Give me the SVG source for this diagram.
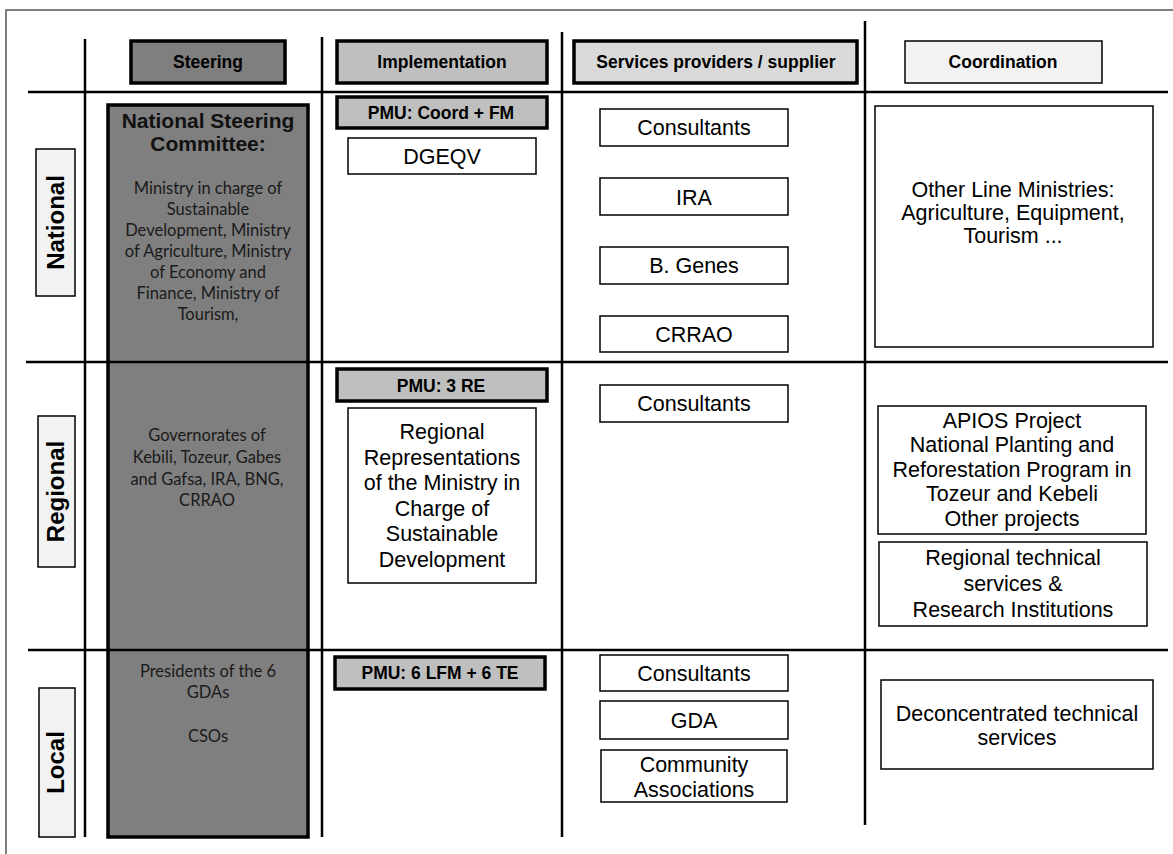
<svg xmlns="http://www.w3.org/2000/svg" width="1173" height="854" viewBox="0 0 1173 854">
<style>
text{font-family:"Liberation Sans",Arial,sans-serif;fill:#000;text-anchor:middle}
.hd{font-size:17.5px;font-weight:bold}
.rg{font-size:21.5px}
.cal{font-family:Lato,"Open Sans",sans-serif;font-size:16.5px;fill:#1a1a1a}
.lab{font-size:24px;font-weight:bold}
.thick{stroke:#000;stroke-width:3.5}
.thin{stroke:#000;stroke-width:1.5;fill:#fff}
.grid line{stroke:#000;stroke-width:2.5}
</style>
<rect width="1173" height="854" fill="#fff"/>
<path d="M1173 10 H6 V854" fill="none" stroke="#555" stroke-width="1.5"/>
<g id="hdr-steering"><rect x="131" y="41" width="154" height="42" fill="#7f7f7f" class="thick"/><text class="hd" x="208" y="68">Steering</text></g>
<g id="hdr-implementation"><rect x="337" y="41" width="210" height="42" fill="#bfbfbf" class="thick"/><text class="hd" x="442" y="68">Implementation</text></g>
<g id="hdr-services"><rect x="574" y="41" width="283" height="42" fill="#d9d9d9" class="thick"/><text class="hd" x="716" y="68">Services providers / supplier</text></g>
<g id="hdr-coordination"><rect x="905" y="41" width="197" height="42" fill="#f2f2f2" stroke="#000" stroke-width="1.5"/><text class="hd" x="1003" y="68">Coordination</text></g>
<g id="lbl-national"><rect x="36" y="149" width="39" height="147" fill="#f2f2f2" stroke="#000" stroke-width="1.5"/><text class="lab" transform="translate(63.5 222.5) rotate(-90)">National</text></g>
<g id="lbl-regional"><rect x="38" y="416" width="37" height="151" fill="#f2f2f2" stroke="#000" stroke-width="1.5"/><text class="lab" transform="translate(64 491.5) rotate(-90)">Regional</text></g>
<g id="lbl-local"><rect x="39" y="688" width="36" height="149" fill="#f2f2f2" stroke="#000" stroke-width="1.5"/><text class="lab" transform="translate(64 762.5) rotate(-90)">Local</text></g>
<g id="steering-committee">
<rect x="108" y="105" width="200" height="732" fill="#7f7f7f" class="thick"/>
<text style="font-size:21px;font-weight:bold;fill:#111" x="208"><tspan x="208" y="128">National Steering</tspan><tspan x="208" y="151">Committee:</tspan></text>
<text class="cal"><tspan x="208" y="194">Ministry in charge of</tspan><tspan x="208" y="215">Sustainable</tspan><tspan x="208" y="236">Development, Ministry</tspan><tspan x="208" y="257">of Agriculture, Ministry</tspan><tspan x="208" y="278">of Economy and</tspan><tspan x="208" y="299">Finance, Ministry of</tspan><tspan x="208" y="320">Tourism,</tspan></text>
<text class="cal"><tspan x="207" y="441">Governorates of</tspan><tspan x="207" y="463">Kebili, Tozeur, Gabes</tspan><tspan x="207" y="485">and Gafsa, IRA, BNG,</tspan><tspan x="207" y="506">CRRAO</tspan></text>
<text class="cal"><tspan x="208" y="677">Presidents of the 6</tspan><tspan x="208" y="698">GDAs</tspan><tspan x="208" y="742">CSOs</tspan></text>
</g>
<g id="connectors" class="grid">
<line x1="85" y1="39" x2="85" y2="837"/>
<line x1="322" y1="37" x2="322" y2="837"/>
<line x1="562" y1="32" x2="562" y2="837"/>
<line x1="865" y1="21" x2="865" y2="825"/>
<line x1="28" y1="92" x2="1168" y2="92"/>
<line x1="26" y1="362" x2="1168" y2="362"/>
<line x1="28" y1="650" x2="1168" y2="650"/>
</g>
<g id="pmu-national"><rect x="337" y="97" width="210" height="31" fill="#bfbfbf" class="thick"/><text class="hd" x="441" y="119">PMU: Coord + FM</text></g>
<g id="dgeqv"><rect x="348" y="138" width="188" height="36" class="thin"/><text class="rg" x="442" y="164">DGEQV</text></g>
<g id="pmu-regional"><rect x="337" y="369" width="210" height="32" fill="#bfbfbf" class="thick"/><text class="hd" x="441" y="392">PMU: 3 RE</text></g>
<g id="regional-rep"><rect x="348" y="408" width="188" height="175" class="thin"/><text class="rg"><tspan x="442" y="439">Regional</tspan><tspan x="442" y="464.5">Representations</tspan><tspan x="442" y="490">of the Ministry in</tspan><tspan x="442" y="515.5">Charge of</tspan><tspan x="442" y="541">Sustainable</tspan><tspan x="442" y="566.5">Development</tspan></text></g>
<g id="pmu-local"><rect x="335" y="657" width="210" height="32" fill="#bfbfbf" class="thick"/><text class="hd" x="440" y="679">PMU: 6 LFM + 6 TE</text></g>
<g id="sp-consultants-nat"><rect x="600" y="109" width="188" height="37" class="thin"/><text class="rg" x="694" y="135">Consultants</text></g>
<g id="sp-ira"><rect x="600" y="178" width="188" height="37" class="thin"/><text class="rg" x="694" y="205">IRA</text></g>
<g id="sp-bgenes"><rect x="600" y="247" width="188" height="37" class="thin"/><text class="rg" x="694" y="273">B. Genes</text></g>
<g id="sp-crrao"><rect x="600" y="316" width="188" height="36" class="thin"/><text class="rg" x="694" y="342">CRRAO</text></g>
<g id="sp-consultants-reg"><rect x="600" y="385" width="188" height="37" class="thin"/><text class="rg" x="694" y="411">Consultants</text></g>
<g id="sp-consultants-loc"><rect x="600" y="655" width="188" height="36" class="thin"/><text class="rg" x="694" y="681">Consultants</text></g>
<g id="sp-gda"><rect x="600" y="701" width="188" height="38" class="thin"/><text class="rg" x="694" y="728">GDA</text></g>
<g id="sp-community"><rect x="601" y="750" width="186" height="52" class="thin"/><text class="rg"><tspan x="694" y="772">Community</tspan><tspan x="694" y="797">Associations</tspan></text></g>
<g id="co-ministries"><rect x="875" y="106" width="278" height="241" class="thin"/><text class="rg"><tspan x="1013" y="197">Other Line Ministries:</tspan><tspan x="1013" y="220">Agriculture, Equipment,</tspan><tspan x="1013" y="243">Tourism ...</tspan></text></g>
<g id="co-apios"><rect x="878" y="406" width="268" height="128" class="thin"/><text class="rg"><tspan x="1012" y="428">APIOS Project</tspan><tspan x="1012" y="452">National Planting and</tspan><tspan x="1012" y="476.5">Reforestation Program in</tspan><tspan x="1012" y="501">Tozeur and Kebeli</tspan><tspan x="1012" y="525.5">Other projects</tspan></text></g>
<g id="co-regional-tech"><rect x="879" y="542" width="268" height="84" class="thin"/><text class="rg"><tspan x="1013" y="565">Regional technical</tspan><tspan x="1013" y="591">services &amp;</tspan><tspan x="1013" y="617">Research Institutions</tspan></text></g>
<g id="co-deconcentrated"><rect x="881" y="680" width="272" height="89" class="thin"/><text class="rg"><tspan x="1017" y="721">Deconcentrated technical</tspan><tspan x="1017" y="745">services</tspan></text></g>
</svg>
